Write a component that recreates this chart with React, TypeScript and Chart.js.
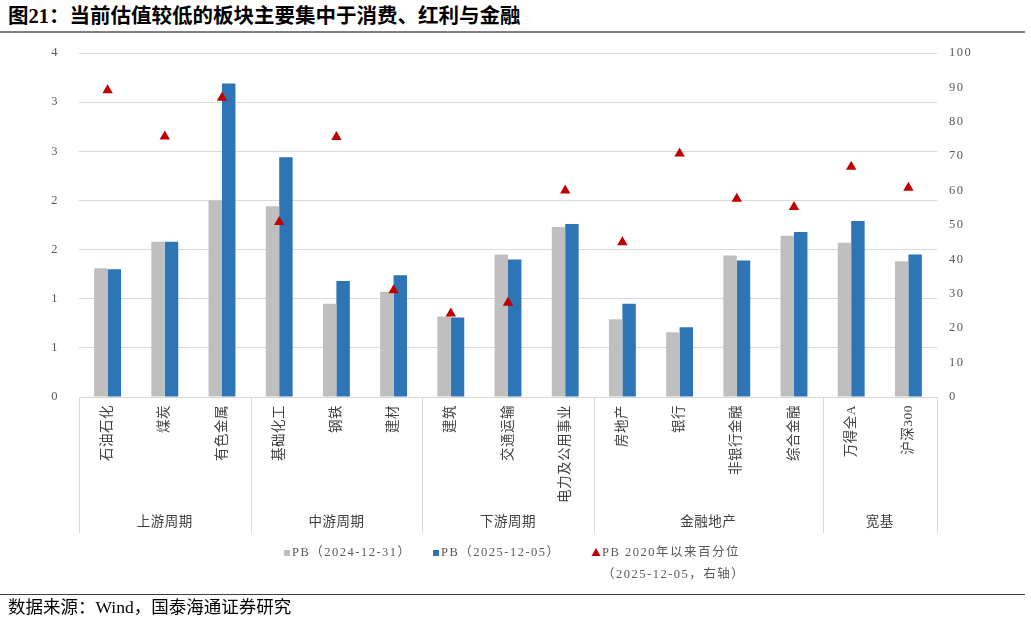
import React, { useEffect, useRef } from "react";
import { Chart, registerables } from "chart.js";
Chart.register(...registerables);

const categories = ["石油石化", "煤炭", "有色金属", "基础化工", "钢铁", "建材", "建筑", "交通运输", "电力及公用事业", "房地产", "银行", "非银行金融", "综合金融", "万得全A", "沪深300"];
const groups = ["上游周期", "中游周期", "下游周期", "金融地产", "宽基"];
const groupSizes = [3, 3, 3, 4, 2];
const pb2024 = [1.31, 1.58, 2.0, 1.94, 0.95, 1.07, 0.82, 1.45, 1.73, 0.79, 0.66, 1.44, 1.64, 1.57, 1.38];
const pb2025 = [1.3, 1.58, 3.19, 2.44, 1.18, 1.24, 0.81, 1.4, 1.76, 0.95, 0.71, 1.39, 1.68, 1.79, 1.45];
const pctile = [89.2, 75.7, 87.0, 50.9, 75.6, 31.0, 24.3, 27.4, 60.0, 45.0, 70.8, 57.6, 55.2, 66.9, 60.8];
const seriesNames = ["PB（2024-12-31）", "PB（2025-12-05）", "PB 2020年以来百分位"];
const seriesNote = "（2025-12-05，右轴）";
const title = "图21：当前估值较低的板块主要集中于消费、红利与金融";
const source = "数据来源：Wind，国泰海通证券研究";

const GRAY = "#bfbfbf";
const BLUE = "#2e75b6";
const RED = "#c00000";
const FONT = '"Liberation Serif", "Noto Sans CJK SC", serif';

const spacing = {
  id: "spacing",
  beforeDraw(chart: any) {
    (chart.ctx as any).letterSpacing = "1.5px";
  },
};

const decor = {
  id: "decor",
  afterDraw(chart: any) {
    const ctx = chart.ctx;
    const xs = chart.scales.x;
    const area = chart.chartArea;
    const n = categories.length;
    const cw = (xs.right - xs.left) / n;
    ctx.save();
    (ctx as any).letterSpacing = "0.5px";
    // group separators
    ctx.strokeStyle = "#d9d9d9";
    ctx.lineWidth = 1;
    const bounds = [0];
    let acc = 0;
    groupSizes.forEach((s) => {
      acc += s;
      bounds.push(acc);
    });
    bounds.forEach((b) => {
      const px = Math.round(xs.left + b * cw) + 0.5;
      ctx.beginPath();
      ctx.moveTo(px, area.bottom);
      ctx.lineTo(px, 533);
      ctx.stroke();
    });
    // category labels
    ctx.fillStyle = "#404040";
    ctx.font = "13.5px " + FONT;
    categories.forEach((c, i) => {
      const px = xs.getPixelForValue(i);
      ctx.save();
      ctx.translate(px, area.bottom + 8);
      ctx.rotate(-Math.PI / 2);
      ctx.textAlign = "right";
      ctx.textBaseline = "middle";
      ctx.fillText(c, 0, 0);
      ctx.restore();
    });
    // group labels
    ctx.textAlign = "center";
    ctx.textBaseline = "middle";
    groups.forEach((g, gi) => {
      const mid = xs.left + ((bounds[gi] + bounds[gi + 1]) / 2) * cw;
      ctx.fillText(g, mid, 522);
    });
    // legend
    const ly = 553;
    ctx.font = "12.5px " + FONT;
    ctx.textAlign = "left";
    (ctx as any).letterSpacing = "1.5px";
    ctx.fillStyle = GRAY;
    ctx.fillRect(284, ly - 3, 6, 6);
    ctx.fillStyle = "#595959";
    ctx.fillText(seriesNames[0], 292, ly);
    ctx.fillStyle = BLUE;
    ctx.fillRect(433, ly - 3, 6, 6);
    ctx.fillStyle = "#595959";
    ctx.fillText(seriesNames[1], 441, ly);
    ctx.fillStyle = RED;
    ctx.beginPath();
    ctx.moveTo(596, ly - 5);
    ctx.lineTo(600.5, ly + 3);
    ctx.lineTo(591.5, ly + 3);
    ctx.closePath();
    ctx.fill();
    ctx.fillStyle = "#595959";
    ctx.fillText(seriesNames[2], 602, ly);
    ctx.fillText(seriesNote, 602, ly + 22);
    ctx.restore();
    (ctx as any).letterSpacing = "0px";
  },
};

export default function App() {
  const ref = useRef<HTMLCanvasElement>(null);
  useEffect(() => {
    if (!ref.current) return;
    const chart = new Chart(ref.current, {
      type: "bar",
      data: {
        labels: categories,
        datasets: [
          {
            label: seriesNames[0],
            data: pb2024,
            backgroundColor: GRAY,
            yAxisID: "y",
            order: 2,
            barPercentage: 1,
            categoryPercentage: 0.47,
          },
          {
            label: seriesNames[1],
            data: pb2025,
            backgroundColor: BLUE,
            yAxisID: "y",
            order: 2,
            barPercentage: 1,
            categoryPercentage: 0.47,
          },
          {
            type: "line",
            label: seriesNames[2],
            data: pctile,
            yAxisID: "y1",
            showLine: false,
            pointStyle: "triangle",
            pointRadius: 6,
            pointBackgroundColor: RED,
            pointBorderColor: RED,
            pointBorderWidth: 0,
            order: 0,
          } as any,
        ],
      },
      options: {
        responsive: false,
        animation: false,
        layout: { padding: { top: 53, left: 0, right: 0, bottom: 0 } },
        plugins: { legend: { display: false }, tooltip: { enabled: false } },
        scales: {
          x: {
            grid: { display: false },
            border: { display: true, color: "#d9d9d9" },
            ticks: { display: false },
            afterFit: (s: any) => {
              s.height = 224;
            },
          },
          y: {
            position: "left",
            min: 0,
            max: 3.5,
            grid: { color: "#d9d9d9", drawTicks: false },
            border: { display: false },
            ticks: {
              stepSize: 0.5,
              padding: 20,
              color: "#595959",
              font: { family: FONT, size: 12.5 },
              callback: (v: any) => String(Math.round(Number(v))),
            },
            afterFit: (s: any) => {
              s.width = 79;
            },
          },
          y1: {
            position: "right",
            min: 0,
            max: 100,
            grid: { display: false, drawTicks: false },
            border: { display: false },
            ticks: {
              stepSize: 10,
              padding: 12,
              color: "#595959",
              font: { family: FONT, size: 12.5 },
            },
            afterFit: (s: any) => {
              s.width = 94;
            },
          },
        },
      },
      plugins: [spacing, decor],
    });
    return () => chart.destroy();
  }, []);

  return (
    <div style={{ position: "absolute", left: 0, top: 0, width: 1031, height: 621, background: "#fff", overflow: "hidden" }}>
      <div
        style={{
          position: "absolute",
          left: 8,
          top: 3,
          fontFamily: FONT,
          fontWeight: "bold",
          fontSize: 20.5,
          lineHeight: "26px",
          color: "#000",
          whiteSpace: "nowrap",
        }}
      >
        {title}
      </div>
      <div style={{ position: "absolute", left: 0, top: 31, width: 1025, height: 2, background: "#7f7f7f" }} />
      <canvas ref={ref} width={1031} height={621} style={{ position: "absolute", left: 0, top: 0, width: 1031, height: 621 }} />
      <div style={{ position: "absolute", left: 0, top: 594, width: 1025, height: 1, background: "#404040" }} />
      <div
        style={{
          position: "absolute",
          left: 8,
          top: 597,
          fontFamily: FONT,
          fontSize: 17.5,
          lineHeight: "20px",
          color: "#000",
          whiteSpace: "nowrap",
        }}
      >
        {source}
      </div>
    </div>
  );
}
